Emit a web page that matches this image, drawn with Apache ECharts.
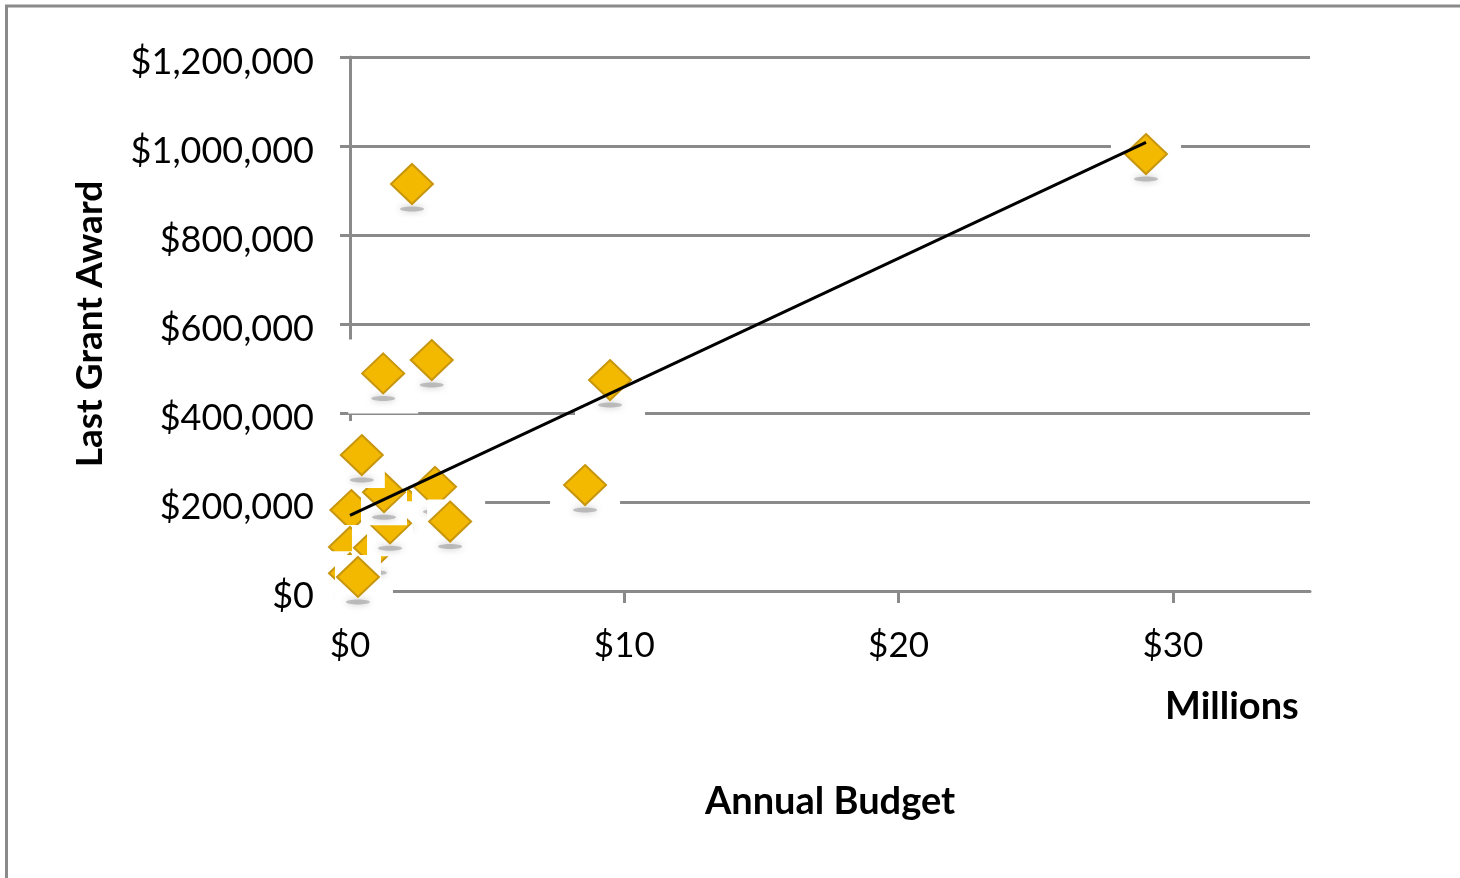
<!DOCTYPE html>
<html>
<head>
<meta charset="utf-8">
<script src="https://cdn.jsdelivr.net/npm/echarts@6/dist/echarts.min.js"></script>
<style>
  html, body { margin: 0; padding: 0; background: #ffffff; }
  #chart { width: 1460px; height: 878px; }
</style>
</head>
<body>
<div id="chart"></div>
<script>
// Annual budget (millions of dollars) and last grant award (dollars) per organisation
const annualBudget = [0.05, 0.0, 0.0, 0.91, 1.88, 1.46, 1.24, 0.43, 3.10, 3.65, 0.29, 2.26, 29.02, 1.21, 2.98, 9.48, 8.57];
const lastGrantAward = [182000, 99000, 40000, 97000, 198000, 152000, 222000, 305600, 234000, 156000, 31500, 914600, 982000, 489000, 519000, 474000, 238000];

// Linear trend line end points: [budget, award]
const trendStart = [0, 170000];
const trendEnd = [29.02, 1008000];

// Axis ticks
const xTicks = [0, 10, 20, 30];

const points = annualBudget.map((b, i) => [b, lastGrantAward[i]]);

const GRID_GRAY = '#8a8a8a';
const FONT = 'Lato, "Open Sans", sans-serif';

function money(v) {
  return '$' + Math.round(v).toLocaleString('en-US');
}

// Each marker: a wide white halo (kept beneath every marker), then its own
// white card, a soft drop shadow and the golden diamond, stacked in data order
function renderMarker(params, api) {
  const p = api.coord([api.value(0), api.value(1)]);
  const x = p[0], y = p[1];
  const base = 10 + params.dataIndex * 4;
  return {
    type: 'group',
    children: [
      { type: 'rect', z2: 0, shape: { x: x - 35, y: y - 34, width: 70, height: 74 },
        style: { fill: '#ffffff' } },
      { type: 'rect', z2: base, shape: { x: x - 23, y: y - 22, width: 46, height: 55 },
        style: { fill: '#ffffff' } },
      { type: 'ellipse', z2: base + 1, shape: { cx: x, cy: y + 25, rx: 12, ry: 2.5 },
        style: { fill: 'rgba(150,150,150,0.55)', shadowBlur: 7, shadowColor: 'rgba(140,140,140,0.9)' } },
      { type: 'polygon', z2: base + 2, shape: { points: [[x, y - 20], [x + 21, y], [x, y + 20], [x - 21, y]] },
        style: { fill: '#F2B900', stroke: '#C7950E', lineWidth: 2 } }
    ]
  };
}

const chart = echarts.init(document.getElementById('chart'), null, { renderer: 'canvas' });

chart.setOption({
  animation: false,
  backgroundColor: '#ffffff',
  graphic: [
    { type: 'rect', shape: { x: 6.5, y: 6, width: 1600, height: 1000 },
      style: { fill: 'none', stroke: GRID_GRAY, lineWidth: 3 }, z: -10 },
    { type: 'text', left: 1165, top: 688,
      style: { text: 'Millions', font: 'bold 38px ' + FONT, fill: '#000000' } }
  ],
  grid: { left: 350, right: 150, top: 57, bottom: 287, containLabel: false },
  xAxis: {
    type: 'value',
    min: 0, max: 35, interval: 10,
    name: 'Annual Budget',
    nameLocation: 'middle',
    nameGap: 192,
    nameTextStyle: { fontFamily: FONT, fontWeight: 'bold', fontSize: 38, color: '#000000' },
    axisLine: { show: true, lineStyle: { color: GRID_GRAY, width: 3 } },
    axisTick: { show: true, length: 12, customValues: xTicks, lineStyle: { color: GRID_GRAY, width: 3 } },
    axisLabel: { customValues: xTicks, margin: 37, fontFamily: FONT, fontSize: 35, color: '#000000',
      formatter: v => '$' + v },
    splitLine: { show: false }
  },
  yAxis: {
    type: 'value',
    min: 0, max: 1200000, interval: 200000,
    name: 'Last Grant Award',
    nameLocation: 'middle',
    nameGap: 241,
    nameRotate: 90,
    nameTextStyle: { fontFamily: FONT, fontWeight: 'bold', fontSize: 37, color: '#000000' },
    axisLine: { show: true, lineStyle: { color: GRID_GRAY, width: 3 } },
    axisTick: { show: true, length: 10, lineStyle: { color: GRID_GRAY, width: 3 } },
    axisLabel: { margin: 36, fontFamily: FONT, fontSize: 36, color: '#000000', formatter: money,
      verticalAlign: 'top', lineHeight: 10 },
    splitLine: { show: true, lineStyle: { color: GRID_GRAY, width: 3 } }
  },
  series: [
    {
      type: 'custom',
      name: 'Organisations',
      data: points,
      renderItem: renderMarker,
      clip: false,
      z: 3
    },
    {
      type: 'line',
      name: 'Linear trend',
      data: [trendStart, trendEnd],
      symbol: 'none',
      lineStyle: { color: '#000000', width: 3 },
      z: 5
    }
  ]
});
</script>
</body>
</html>
